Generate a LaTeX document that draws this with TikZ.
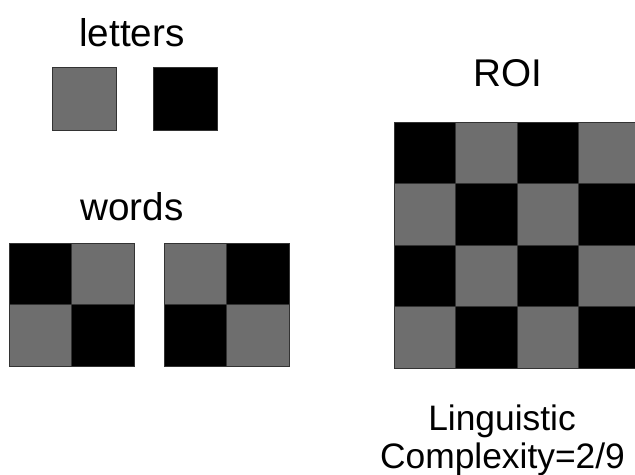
\documentclass[tikz,border=0pt]{standalone}
\usepackage{fontspec}
\setmainfont{Liberation Sans}
\definecolor{cellgray}{RGB}{110,110,110}
\begin{document}
\begin{tikzpicture}[x=0.03cm, y=-0.03cm,
    bigtxt/.style={font=\fontsize{33}{40}\selectfont, anchor=base, inner sep=0pt},
    smalltxt/.style={font=\fontsize{30.2}{36}\selectfont, anchor=base, inner sep=0pt},
    cell/.style={draw=black!80, line width=0.5pt}]
    \clip (0,0) rectangle (635,475);

    % letters
    \node[bigtxt] (letters) at (132,47) {letters};
    \filldraw[cell, fill=cellgray] (52,67) rectangle (116,130);
    \filldraw[cell, fill=black] (153,67) rectangle (217,130);

    % words
    \node[bigtxt] (words) at (132,220) {words};
    \foreach \i in {0,1}
      \foreach \j in {0,1} {
        \pgfmathtruncatemacro\k{mod(\i+\j,2)}
        \ifnum\k=0 \def\colA{black}\def\colB{cellgray}\else\def\colA{cellgray}\def\colB{black}\fi
        \filldraw[cell, fill=\colA] (9+62.5*\i,243+61.5*\j) rectangle ++(62.5,61.5);
        \filldraw[cell, fill=\colB] (164+62.5*\i,243+61.5*\j) rectangle ++(62.5,61.5);
      }

    % ROI
    \node[bigtxt] (roi) at (508,86) {ROI};
    \foreach \i in {0,...,3}
      \foreach \j in {0,...,3} {
        \pgfmathtruncatemacro\k{mod(\i+\j,2)}
        \ifnum\k=0 \def\colA{black}\else\def\colA{cellgray}\fi
        \filldraw[cell, fill=\colA] (394+61.5*\i,122+61.5*\j) rectangle ++(61.5,61.5);
      }

    % complexity
    \node[smalltxt] (ling) at (502,430) {Linguistic};
    \node[smalltxt] (compl) at (502.5,468) {Complexity=2/9};
\end{tikzpicture}
\end{document}
